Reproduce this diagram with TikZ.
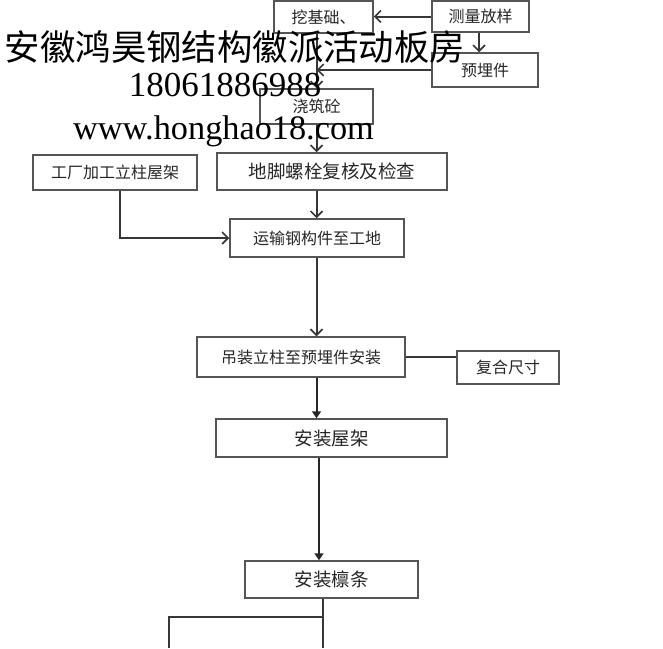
\documentclass[tikz,border=0pt]{standalone}
\usepackage{fontspec}
\setmainfont{Liberation Serif}
\newfontfamily\cjk{Noto Sans CJK SC}
\usetikzlibrary{arrows.meta}
\definecolor{boxgray}{RGB}{85,85,85}
\definecolor{linegray}{RGB}{55,55,55}
\tikzstyle{stepbox} = [rectangle, draw=boxgray, line width=1.5pt, inner sep=0pt, text=black!85, font=\cjk\fontsize{16}{16}\selectfont]
\tikzstyle{bigbox} = [stepbox, font=\cjk\fontsize{18.5}{18.5}\selectfont]
\tikzstyle{arrow} = [line width=2pt, draw=linegray, -{Straight Barb[length=6pt,width=12pt,line width=1.6pt]}]
\tikzstyle{arrowfill} = [line width=2pt, draw=black!85, -{Triangle[length=7pt,width=9pt]}]
\tikzstyle{plainline} = [line width=2pt, draw=linegray]
\tikzstyle{watermark} = [inner sep=0pt, text=black]

\begin{document}
\begin{tikzpicture}[x=1pt, y=-1pt]
	\useasboundingbox (0,0) rectangle (663,648);
	\node (wajichu) at (323.5, 17) [stepbox, minimum width=99pt, minimum height=32pt] {挖基础、};
	\node (celiang) at (480.5, 16.5) [stepbox, minimum width=97pt, minimum height=31pt] {测量放样};
	\node (yumai) at (485, 70) [stepbox, minimum width=106pt, minimum height=34pt] {预埋件};
	\node (jiaozhu) at (316.5, 106.5) [stepbox, minimum width=113pt, minimum height=35pt] {浇筑砼};
	\node (dijiao) at (332, 171.5) [bigbox, minimum width=230pt, minimum height=37pt] {地脚螺栓复核及检查};
	\node (gongchang) at (115, 172.5) [stepbox, minimum width=164pt, minimum height=35pt] {工厂加工立柱屋架};
	\node (yunshu) at (317, 238) [stepbox, minimum width=174pt, minimum height=38pt] {运输钢构件至工地};
	\node (diaozhuang) at (301, 357) [stepbox, minimum width=208pt, minimum height=40pt] {吊装立柱至预埋件安装};
	\node (fuhe) at (508, 367.5) [stepbox, minimum width=102pt, minimum height=33pt] {复合尺寸};
	\node (wujia) at (331.5, 438) [bigbox, minimum width=231pt, minimum height=38pt] {安装屋架};
	\node (linjiao) at (331.5, 579.5) [bigbox, minimum width=173pt, minimum height=37pt] {安装檩条};
	\coordinate (fencha) at (323, 617);
	\coordinate (xia) at (323, 648);
	\coordinate (zuoxia) at (169, 648);
	% upper part
	\draw [arrow] (celiang.west) -- (celiang.west -| wajichu.east);
	\draw [arrow] (celiang.south -| 479,0) -- (yumai.north -| 479,0);
	\draw [arrow] (jiaozhu.north |- wajichu.south) -- (jiaozhu.north);
	\draw [arrow] (yumai.west) -- (yumai.west -| jiaozhu.north);
	\draw [arrow] (jiaozhu.south) -- (jiaozhu.south |- dijiao.north);
	\draw [arrow] (jiaozhu.south |- dijiao.south) -- (jiaozhu.south |- yunshu.north);
	\draw [arrow] (gongchang.south -| 120,0) |- (yunshu.west);
	\draw [arrow] (jiaozhu.south |- yunshu.south) -- (jiaozhu.south |- diaozhuang.north);
	% lower part
	\draw [plainline] (diaozhuang.east) -- (diaozhuang.east -| fuhe.west);
	\draw [arrowfill] (jiaozhu.south |- diaozhuang.south) -- (jiaozhu.south |- wujia.north);
	\draw [arrowfill] (wujia.south -| 319,0) -- (linjiao.north -| 319,0);
	\draw [plainline] (linjiao.south -| fencha) -- (xia);
	\draw [plainline] (fencha) -| (zuoxia);
	% watermark on top
	\node (title) at (235, 47) [watermark, font=\cjk\fontsize{35.4}{36}\selectfont] {安徽鸿昊钢结构徽派活动板房};
	\node (phone) at (225, 85.5) [watermark, font=\fontsize{35}{36}\selectfont] {18061886988};
	\node (site) at (223.5, 139) [watermark, anchor=base, font=\fontsize{34.3}{36}\selectfont] {www.honghao18.com};
\end{tikzpicture}
\end{document}
